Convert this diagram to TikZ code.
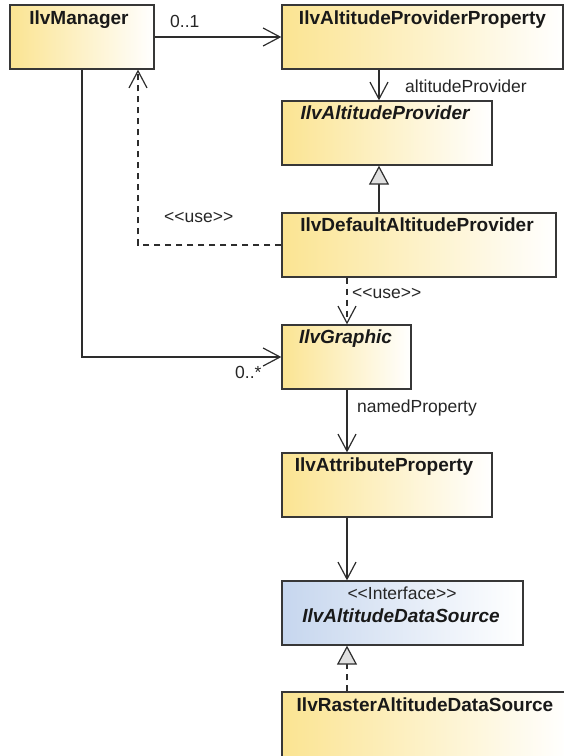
\documentclass[tikz,border=0pt]{standalone}
\usepackage{fontspec}
\setmainfont{Liberation Sans}
\usetikzlibrary{arrows.meta}
\definecolor{yel}{RGB}{251,228,146}
\definecolor{blu}{RGB}{198,214,238}
\definecolor{bordc}{RGB}{55,55,55}
\definecolor{linec}{RGB}{45,45,45}
\tikzset{
  ybox/.style={rectangle, draw=bordc, line width=1.3pt, left color=yel, right color=white, inner sep=0pt},
  bbox/.style={rectangle, draw=bordc, line width=1.3pt, left color=blu, right color=white, inner sep=0pt},
  ttl/.style={anchor=base, inner sep=0pt, font=\fontsize{19}{22}\selectfont\bfseries, text=black!90},
  ittl/.style={ttl, font=\fontsize{19}{22}\selectfont\bfseries\itshape},
  lbl/.style={anchor=base west, inner sep=0pt, font=\fontsize{17.5}{20}\selectfont, text=black!85},
  assoc/.style={draw=linec, line width=1.2pt, -{Straight Barb[length=17pt,width=18pt,line width=1.2pt]}},
  dep/.style={assoc, dash pattern=on 6pt off 5pt},
  gen/.style={draw=linec, line width=1.2pt, -{Triangle[length=19pt,width=20pt,line width=1.2pt,fill=black!12]}},
  real/.style={gen, dash pattern=on 6pt off 5pt},
}
\begin{document}
\begin{tikzpicture}[x=1pt,y=-1pt]
\useasboundingbox (0,0) rectangle (564,756);
\clip (0,0) rectangle (564,756);
% boxes
\node[ybox, minimum width=144pt, minimum height=64pt] (mgr) at (82,37) {};
\node[ybox, minimum width=281pt, minimum height=64pt] (prop) at (422.5,37) {};
\node[ybox, minimum width=210pt, minimum height=64pt] (prov) at (387,133) {};
\node[ybox, minimum width=274pt, minimum height=64pt] (dflt) at (419,245) {};
\node[ybox, minimum width=129pt, minimum height=64pt] (gfx) at (346.5,357) {};
\node[ybox, minimum width=210pt, minimum height=64pt] (attr) at (387,485) {};
\node[bbox, minimum width=241pt, minimum height=64pt] (ds) at (402.5,613) {};
\node[ybox, minimum width=286pt, minimum height=66pt] (rst) at (425,725) {};
% titles
\node[ttl] (tmgr) at (79,24) {IlvManager};
\node[ttl] (tprop) at (422.5,24) {IlvAltitudeProviderProperty};
\node[ittl] (tprov) at (385,119) {IlvAltitudeProvider};
\node[ttl] (tdflt) at (417,231) {IlvDefaultAltitudeProvider};
\node[ittl] (tgfx) at (345.5,343) {IlvGraphic};
\node[ttl] (tattr) at (384,471) {IlvAttributeProperty};
\node[anchor=base, inner sep=0pt, font=\fontsize{17.5}{20}\selectfont, text=black!85] (tster) at (402,599) {<{}<Interface>{}>};
\node[ittl] (tds) at (401,622) {IlvAltitudeDataSource};
\node[ttl] (trst) at (425,711) {IlvRasterAltitudeDataSource};
% helper coordinates
\coordinate (c379) at (379,0);
\coordinate (c138) at (138,0);
\coordinate (c347) at (347,0);
% connectors
\draw[assoc] (mgr.east) -- (prop.west);
\draw[assoc] (prop.south -| c379) -- (prov.north -| c379);
\draw[gen] (dflt.north -| c379) -- (prov.south -| c379);
\draw[dep] (dflt.west) -| (mgr.south -| c138);
\draw[dep] (dflt.south -| c347) -- (gfx.north -| c347);
\draw[assoc] (mgr.south) |- (gfx.west);
\draw[assoc] (gfx.south -| c347) -- (attr.north -| c347);
\draw[assoc] (attr.south -| c347) -- (ds.north -| c347);
\draw[real] (rst.north -| c347) -- (ds.south -| c347);
% labels
\node[lbl] (l01) at (170,27) {0..1};
\node[lbl] (lap) at (405,92) {altitudeProvider};
\node[lbl] (luse1) at (164,222) {<{}<use>{}>};
\node[lbl] (luse2) at (352,298) {<{}<use>{}>};
\node[lbl] (l0s) at (235,378) {0..*};
\node[lbl] (lnp) at (357,412) {namedProperty};
\end{tikzpicture}
\end{document}
